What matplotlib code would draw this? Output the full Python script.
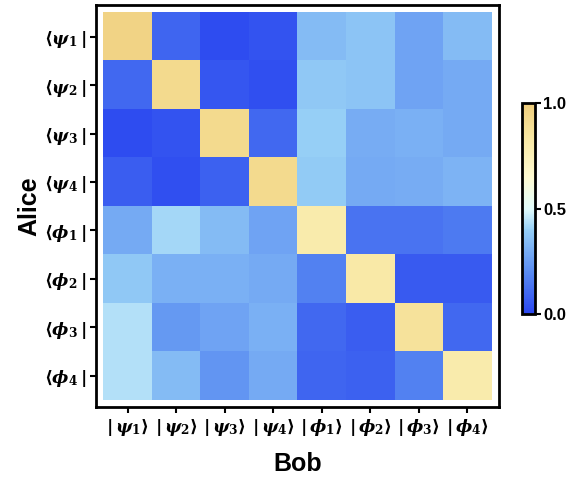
import matplotlib
matplotlib.use("Agg")
import matplotlib.pyplot as plt
import numpy as np
from matplotlib.colors import LinearSegmentedColormap

# Bob's states (columns) and Alice's states (rows)
bob_labels = [r"$|\,\psi_1\rangle$", r"$|\,\psi_2\rangle$", r"$|\,\psi_3\rangle$", r"$|\,\psi_4\rangle$",
              r"$|\,\phi_1\rangle$", r"$|\,\phi_2\rangle$", r"$|\,\phi_3\rangle$", r"$|\,\phi_4\rangle$"]
alice_labels = [r"$\langle\psi_1\,|$", r"$\langle\psi_2\,|$", r"$\langle\psi_3\,|$", r"$\langle\psi_4\,|$",
                r"$\langle\phi_1\,|$", r"$\langle\phi_2\,|$", r"$\langle\phi_3\,|$", r"$\langle\phi_4\,|$"]

# overlap values, one row per Alice state
row_psi1 = [0.96, 0.09, 0.02, 0.04, 0.34, 0.37, 0.27, 0.34]
row_psi2 = [0.10, 0.92, 0.05, 0.03, 0.38, 0.37, 0.27, 0.29]
row_psi3 = [0.02, 0.04, 0.92, 0.10, 0.40, 0.30, 0.31, 0.29]
row_psi4 = [0.07, 0.03, 0.08, 0.92, 0.39, 0.29, 0.30, 0.32]
row_phi1 = [0.29, 0.42, 0.34, 0.27, 0.80, 0.13, 0.13, 0.15]
row_phi2 = [0.38, 0.31, 0.31, 0.29, 0.17, 0.82, 0.06, 0.06]
row_phi3 = [0.44, 0.24, 0.27, 0.31, 0.10, 0.07, 0.87, 0.10]
row_phi4 = [0.44, 0.34, 0.23, 0.29, 0.09, 0.08, 0.17, 0.80]

data = np.array([row_psi1, row_psi2, row_psi3, row_psi4,
                 row_phi1, row_phi2, row_phi3, row_phi4])

cmap = LinearSegmentedColormap.from_list("bluesand", [
    (0.0, "#2a46f0"), (0.2, "#5a8cf2"), (0.4, "#96cff6"), (0.5, "#e2fcfc"),
    (0.65, "#fffbd2"), (0.85, "#f8e6a0"), (1.0, "#efcd7c")])

plt.rcParams["mathtext.fontset"] = "custom"
plt.rcParams["mathtext.rm"] = "DejaVu Serif:bold"
plt.rcParams["mathtext.it"] = "DejaVu Serif:italic:bold"
plt.rcParams["mathtext.bf"] = "DejaVu Serif:bold"

fig = plt.figure(figsize=(5.82, 4.79), dpi=100)
ax = fig.add_axes([0.165, 0.150, 0.692, 0.839])
im = ax.imshow(data, cmap=cmap, vmin=0, vmax=1, aspect="auto")
ax.set_autoscale_on(False)
ax.set_xlim(-0.65, 7.65)
ax.set_ylim(7.65, -0.65)

ax.set_xticks(range(8))
ax.set_xticklabels(bob_labels, fontsize=12.5)
ax.set_yticks(range(8))
ax.set_yticklabels(alice_labels, fontsize=12.5)
ax.tick_params(direction="out", length=4, width=1.5, pad=3)
for s in ax.spines.values():
    s.set_linewidth(2)

ax.set_xlabel("Bob", fontsize=18, fontweight="bold", family="Liberation Sans", labelpad=10)
ax.set_ylabel("Alice", fontsize=18, fontweight="bold", family="Liberation Sans", labelpad=2)

cax = fig.add_axes([0.897, 0.344, 0.0223, 0.4405])
cb = fig.colorbar(im, cax=cax, ticks=[0, 0.5, 1.0])
cb.outline.set_linewidth(2)
cax.tick_params(length=4, width=1.5, pad=2)
cax.set_yticklabels(["0.0", "0.5", "1.0"], fontsize=12, fontweight="bold", family="Liberation Sans")

fig.savefig("out.png", dpi=100)
